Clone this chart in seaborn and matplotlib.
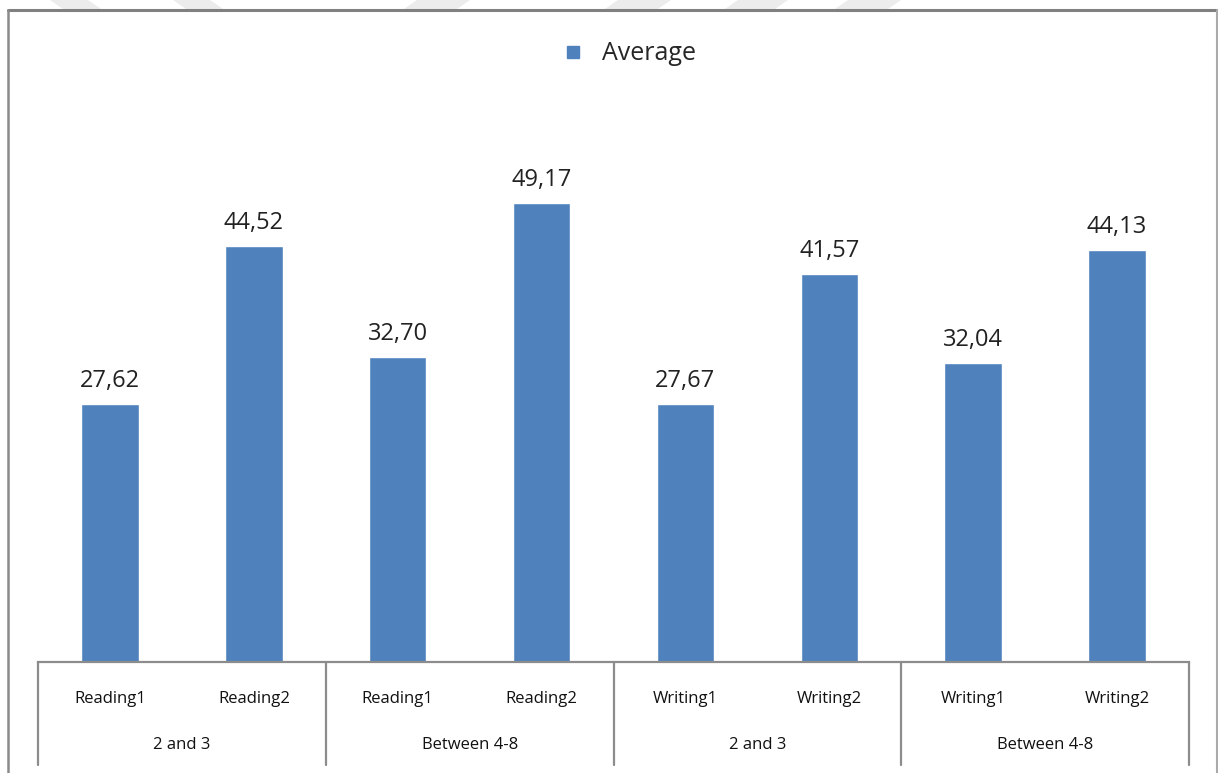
import pandas as pd
import matplotlib.pyplot as plt
import matplotlib.lines as mlines
import matplotlib.patches as mpatches
import seaborn as sns

# data
groups = ['2 and 3', '2 and 3', 'Between 4-8', 'Between 4-8',
          '2 and 3', '2 and 3', 'Between 4-8', 'Between 4-8']
tests = ['Reading1', 'Reading2', 'Reading1', 'Reading2',
         'Writing1', 'Writing2', 'Writing1', 'Writing2']
average = [27.62, 44.52, 32.70, 49.17, 27.67, 41.57, 32.04, 44.13]
group_labels = ['2 and 3', 'Between 4-8', '2 and 3', 'Between 4-8']

df = pd.DataFrame({'group': groups, 'test': tests, 'average': average})
df['key'] = [f'{i}_{t}' for i, t in enumerate(tests)]

sns.set_style('white')
plt.rcParams['font.family'] = ['Open Sans', 'DejaVu Sans']

W, H = 1218, 773
fig = plt.figure(figsize=(W / 100, H / 100), dpi=100)
ax = fig.add_axes([38 / W, (H - 662) / H, 1151 / W, 560 / H])

bar_color = '#4F81BD'
sns.barplot(data=df, x='key', y='average', color=bar_color, width=0.4,
            saturation=1, ax=ax)
ax.set_ylim(0, 60)
ax.set_xlim(-0.5, len(df) - 0.5)

# value labels with decimal comma
lbls = [f'{v:.2f}'.replace('.', ',') for v in df['average']]
ax.bar_label(ax.containers[0], labels=lbls, padding=8, fontsize=17, color='#222222')

# axes styling
for s in ['top', 'right', 'left']:
    ax.spines[s].set_visible(False)
ax.spines['bottom'].set_color('#8c8c8c')
ax.spines['bottom'].set_linewidth(1.6)
ax.set_yticks([])
ax.set_ylabel('')
ax.set_xlabel('')
ax.set_xticks(range(len(df)))
ax.set_xticklabels(df['test'], fontsize=12, color='#111111')
ax.tick_params(axis='x', length=0, pad=21)

# group separators and group labels
for b in [-0.5, 1.5, 3.5, 5.5, 7.5]:
    ax.add_line(mlines.Line2D([b, b], [0, -103 / 560], transform=ax.get_xaxis_transform(),
                              color='#8c8c8c', lw=1.6, clip_on=False))
for i, g in enumerate(group_labels):
    ax.annotate(g, xy=(2 * i + 0.5, 0), xycoords=('data', 'axes fraction'),
                xytext=(0, -60), textcoords='offset points',
                ha='center', va='center', fontsize=12, color='#111111')

# legend on top
handle = mlines.Line2D([], [], marker='s', linestyle='none', markersize=9,
                       color=bar_color, label='Average')
fig.legend(handles=[handle], loc='center', bbox_to_anchor=(627 / W, 1 - 54 / H),
           frameon=False, fontsize=18, handletextpad=0.6, handlelength=1.2)

# outer frame
frame_c = '#8a8a8a'
fig.add_artist(mlines.Line2D([8 / W, 1217 / W], [1 - 10 / H, 1 - 10 / H],
                             transform=fig.transFigure, color='#808080', lw=2.2))
fig.add_artist(mlines.Line2D([8 / W, 8 / W], [0, 1 - 10 / H],
                             transform=fig.transFigure, color=frame_c, lw=1.8))
fig.add_artist(mlines.Line2D([1217 / W, 1217 / W], [0, 1 - 10 / H],
                             transform=fig.transFigure, color='#aaaaaa', lw=1.5))

# faint diagonal stripes above the frame
stripes = [(50, 88, 13), (173, 210, 13), (417, 470, -13), (618, 671, -13),
           (738, 788, -13), (848, 901, -13)]
for x0, x1, d in stripes:
    pts = [(x0, 0), (x1, 0), (x1 + d, 9), (x0 + d, 9)]
    pts = [(x / W, 1 - y / H) for x, y in pts]
    fig.add_artist(mpatches.Polygon(pts, closed=True, transform=fig.transFigure,
                                    facecolor='#ececec', edgecolor='none'))

fig.savefig('out.png', dpi=100)
